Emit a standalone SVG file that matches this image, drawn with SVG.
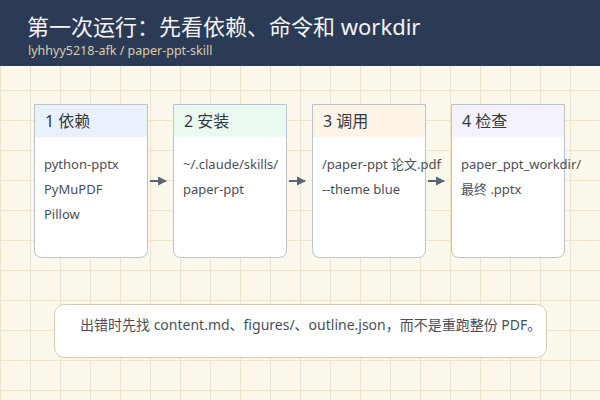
<svg xmlns="http://www.w3.org/2000/svg" width="600" height="400" viewBox="0 0 600 400">
<defs>
<pattern id="grid" width="30" height="30" patternUnits="userSpaceOnUse">
<rect width="30" height="30" fill="#fdf8ec"/>
<path d="M0 0.5H30M0.5 0V30" stroke="#f1e4c8" stroke-width="1.2" fill="none"/>
</pattern>
<marker id="arr" markerWidth="10" markerHeight="10" refX="8" refY="5" orient="auto" markerUnits="userSpaceOnUse">
<path d="M0 0.5L9 5L0 9.5Z" fill="#5a6577"/>
</marker>
<style>
.t{font-family:"Noto Sans","Noto Sans CJK SC",sans-serif}
.card{fill:#ffffff;stroke:#b9c3d0;stroke-width:1}
.hd{font-size:16px;fill:#333a44}
.bd{font-size:13px;fill:#4a4f57}
.conn{stroke:#5a6577;stroke-width:2;fill:none;marker-end:url(#arr)}
</style>
</defs>
<rect width="600" height="400" fill="url(#grid)"/>
<g id="header">
<rect width="600" height="66" fill="#2b3a55"/>
<text class="t" x="27" y="35" font-size="22" fill="#f4f4f4">第一次运行：先看依赖、命令和 workdir</text>
<text class="t" x="28" y="55" font-size="12.5" fill="#dccca8">lyhhyy5218-afk / paper-ppt-skill</text>
</g>
<g id="node1">
<path class="card" d="M34.5 104.5H147.5V249.5Q147.5 257.5 139.5 257.5H42.5Q34.5 257.5 34.5 249.5Z"/>
<rect x="35" y="105" width="112" height="32" fill="#e8f1fd"/>
<text class="t hd" x="45" y="127">1 依赖</text>
<text class="t bd" x="44" y="169">python-pptx</text>
<text class="t bd" x="44" y="194">PyMuPDF</text>
<text class="t bd" x="44" y="219">Pillow</text>
</g>
<g id="node2">
<path class="card" d="M173.5 104.5H286.5V249.5Q286.5 257.5 278.5 257.5H181.5Q173.5 257.5 173.5 249.5Z"/>
<rect x="174" y="105" width="112" height="32" fill="#ebfaf0"/>
<text class="t hd" x="184" y="127">2 安装</text>
<text class="t bd" x="183" y="169">~/.claude/skills/</text>
<text class="t bd" x="183" y="194">paper-ppt</text>
</g>
<g id="node3">
<path class="card" d="M312.5 104.5H425.5V249.5Q425.5 257.5 417.5 257.5H320.5Q312.5 257.5 312.5 249.5Z"/>
<rect x="313" y="105" width="112" height="32" fill="#fdf4e7"/>
<text class="t hd" x="323" y="127">3 调用</text>
<text class="t bd" x="322" y="169">/paper-ppt 论文.pdf</text>
<text class="t bd" x="322" y="194">--theme blue</text>
</g>
<g id="node4">
<path class="card" d="M451.5 104.5H564.5V249.5Q564.5 257.5 556.5 257.5H459.5Q451.5 257.5 451.5 249.5Z"/>
<rect x="452" y="105" width="112" height="32" fill="#f3f2fd"/>
<text class="t hd" x="462" y="127">4 检查</text>
<text class="t bd" x="461" y="169">paper_ppt_workdir/</text>
<text class="t bd" x="461" y="194">最终 .pptx</text>
</g>
<g id="connectors">
<line class="conn" x1="150" y1="181" x2="166" y2="181"/>
<line class="conn" x1="289" y1="181" x2="305" y2="181"/>
<line class="conn" x1="428" y1="181" x2="444" y2="181"/>
</g>
<g id="note">
<rect x="54.5" y="304.5" width="492" height="53" rx="10" fill="#ffffff" stroke="#d8ccb0" stroke-width="1"/>
<text class="t" x="80" y="330" font-size="14" fill="#4a4f57">出错时先找 content.md、figures/、outline.json，而不是重跑整份 PDF。</text>
</g>
</svg>
